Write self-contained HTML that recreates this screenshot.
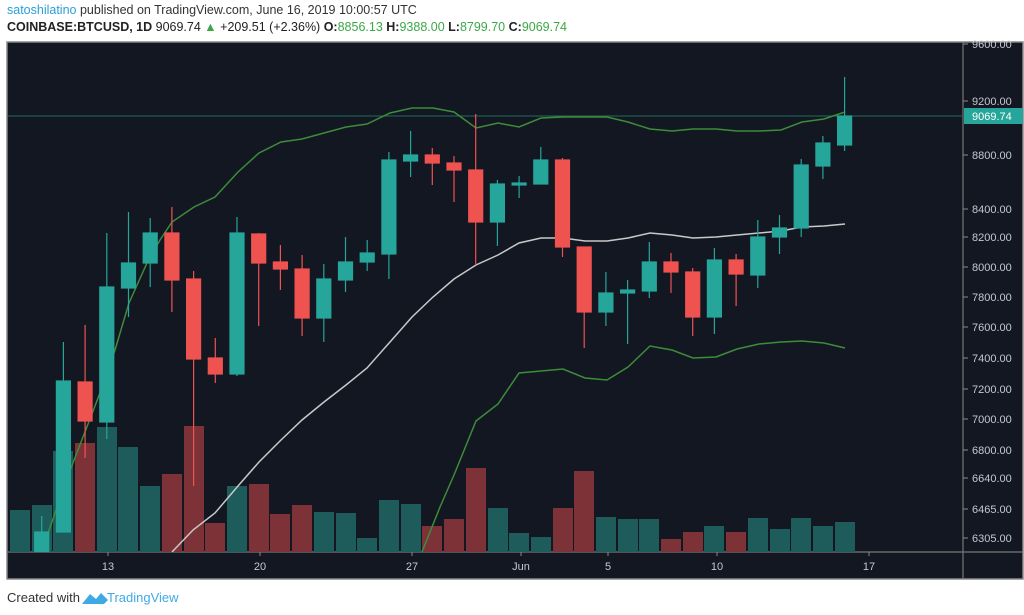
<!DOCTYPE html>
<html><head><meta charset="utf-8"><style>
html,body{margin:0;padding:0;background:#fff;width:1024px;height:615px;overflow:hidden;font-family:"Liberation Sans",sans-serif}
svg{position:absolute;left:0;top:0}
</style></head><body>
<svg width="1024" height="615" viewBox="0 0 1024 615" xmlns="http://www.w3.org/2000/svg" font-family="Liberation Sans, sans-serif">
<text x="7" y="14" font-size="12.5" fill="#333"><tspan fill="#2a9fd6">satoshilatino</tspan> published on TradingView.com, June 16, 2019 10:00:57 UTC</text>
<text x="7" y="31" font-size="12.5" fill="#222"><tspan font-weight="bold">COINBASE:BTCUSD, 1D</tspan> 9069.74 <tspan fill="#3aa846">▲</tspan> +209.51 (+2.36%) <tspan font-weight="bold">O:</tspan><tspan fill="#3aa846">8856.13</tspan> <tspan font-weight="bold">H:</tspan><tspan fill="#3aa846">9388.00</tspan> <tspan font-weight="bold">L:</tspan><tspan fill="#3aa846">8799.70</tspan> <tspan font-weight="bold">C:</tspan><tspan fill="#3aa846">9069.74</tspan></text>
<rect x="7" y="42" width="1016" height="537" fill="#131722" stroke="#888" stroke-width="1.5"/>
<line x1="7" y1="552" x2="1023" y2="552" stroke="#777" stroke-width="1.2"/>
<line x1="963" y1="42" x2="963" y2="579" stroke="#777" stroke-width="1.2"/>
<defs><clipPath id="c"><rect x="8" y="43" width="955" height="509"/></clipPath></defs>
<g clip-path="url(#c)">
<g>
<rect x="10" y="510" width="20" height="42" fill="#1d5c5a"/>
<rect x="32" y="505" width="20" height="47" fill="#1d5c5a"/>
<rect x="53" y="451" width="20" height="101" fill="#1d5c5a"/>
<rect x="75" y="443" width="20" height="109" fill="#7d3238"/>
<rect x="97" y="427" width="20" height="125" fill="#1d5c5a"/>
<rect x="118" y="447" width="20" height="105" fill="#1d5c5a"/>
<rect x="140" y="486" width="20" height="66" fill="#1d5c5a"/>
<rect x="162" y="474" width="20" height="78" fill="#7d3238"/>
<rect x="184" y="426" width="20" height="126" fill="#7d3238"/>
<rect x="205" y="523" width="20" height="29" fill="#7d3238"/>
<rect x="227" y="486" width="20" height="66" fill="#1d5c5a"/>
<rect x="249" y="484" width="20" height="68" fill="#7d3238"/>
<rect x="270" y="514" width="20" height="38" fill="#7d3238"/>
<rect x="292" y="505" width="20" height="47" fill="#7d3238"/>
<rect x="314" y="512" width="20" height="40" fill="#1d5c5a"/>
<rect x="336" y="513" width="20" height="39" fill="#1d5c5a"/>
<rect x="357" y="538" width="20" height="14" fill="#1d5c5a"/>
<rect x="379" y="500" width="20" height="52" fill="#1d5c5a"/>
<rect x="401" y="504" width="20" height="48" fill="#1d5c5a"/>
<rect x="422" y="526" width="20" height="26" fill="#7d3238"/>
<rect x="444" y="519" width="20" height="33" fill="#7d3238"/>
<rect x="466" y="468" width="20" height="84" fill="#7d3238"/>
<rect x="488" y="508" width="20" height="44" fill="#1d5c5a"/>
<rect x="509" y="533" width="20" height="19" fill="#1d5c5a"/>
<rect x="531" y="537" width="20" height="15" fill="#1d5c5a"/>
<rect x="553" y="508" width="20" height="44" fill="#7d3238"/>
<rect x="574" y="471" width="20" height="81" fill="#7d3238"/>
<rect x="596" y="517" width="20" height="35" fill="#1d5c5a"/>
<rect x="618" y="519" width="20" height="33" fill="#1d5c5a"/>
<rect x="639" y="519" width="20" height="33" fill="#1d5c5a"/>
<rect x="661" y="539" width="20" height="13" fill="#7d3238"/>
<rect x="683" y="532" width="20" height="20" fill="#7d3238"/>
<rect x="704" y="526" width="20" height="26" fill="#1d5c5a"/>
<rect x="726" y="532" width="20" height="20" fill="#7d3238"/>
<rect x="748" y="518" width="20" height="34" fill="#1d5c5a"/>
<rect x="770" y="529" width="20" height="23" fill="#1d5c5a"/>
<rect x="791" y="518" width="20" height="34" fill="#1d5c5a"/>
<rect x="813" y="526" width="20" height="26" fill="#1d5c5a"/>
<rect x="835" y="522" width="20" height="30" fill="#1d5c5a"/>
</g>
<line x1="8" y1="116" x2="963" y2="116" stroke="#1f6b63" stroke-width="1"/>
<polyline fill="none" stroke="#3d8c3a" stroke-width="1.5" points="42,552 48,533 71,468 100,393 115,350 129,303 147,263 160,240 172,222 194,207 215,197 238,172 259,153 281,142 302,139 324,133 346,127 367,124 390,113 412,108 433,108 454,112 476,128 498,123 519,127 541,118 563,117 585,117 607,117 628,122 650,129 672,131 693,129 716,129 737,131 759,131 781,130 802,122 824,119 845,112"/>
<polyline fill="none" stroke="#c9c9c9" stroke-width="1.5" points="172,552 193,530 215,513 238,486 259,462 281,440 302,420 324,402 346,385 367,368 390,342 412,317 433,297 454,279 476,265 498,255 519,243 541,238 563,238 585,241 607,241 628,238 650,233 672,235 693,238 716,237 737,235 759,233 781,231 802,227 824,226 845,224"/>
<polyline fill="none" stroke="#3d8c3a" stroke-width="1.5" points="422,552 440,507 454,475 476,421 498,404 519,373 541,371 563,369 585,378 607,380 628,367 650,346 672,350 693,358 716,357 737,349 759,344 781,342 802,341 824,343 845,348"/>
<g stroke-width="1.2">
<g stroke="#26a69a" fill="#26a69a">
<line x1="41.7" y1="516" x2="41.7" y2="552"/><rect x="34.7" y="532" width="14" height="20"/>
<line x1="63.4" y1="342" x2="63.4" y2="532"/><rect x="56.4" y="381" width="14" height="151"/>
<line x1="106.8" y1="233" x2="106.8" y2="439"/><rect x="99.8" y="287" width="14" height="135"/>
<line x1="128.5" y1="212" x2="128.5" y2="317"/><rect x="121.5" y="263" width="14" height="25"/>
<line x1="150.2" y1="218" x2="150.2" y2="287"/><rect x="143.2" y="233" width="14" height="30"/>
<line x1="237" y1="217" x2="237" y2="376"/><rect x="230" y="233" width="14" height="141"/>
<line x1="323.8" y1="264" x2="323.8" y2="342"/><rect x="316.8" y="279" width="14" height="39"/>
<line x1="345.5" y1="237" x2="345.5" y2="292"/><rect x="338.5" y="262" width="14" height="18"/>
<line x1="367.2" y1="240" x2="367.2" y2="271"/><rect x="360.2" y="253" width="14" height="9"/>
<line x1="388.9" y1="152" x2="388.9" y2="279"/><rect x="381.9" y="160" width="14" height="94"/>
<line x1="410.6" y1="131" x2="410.6" y2="177"/><rect x="403.6" y="155" width="14" height="6"/>
<line x1="497.4" y1="180" x2="497.4" y2="246"/><rect x="490.4" y="184" width="14" height="38"/>
<line x1="519.1" y1="176" x2="519.1" y2="198"/><rect x="512.1" y="183" width="14" height="2"/>
<line x1="540.8" y1="147" x2="540.8" y2="184"/><rect x="533.8" y="160" width="14" height="24"/>
<line x1="605.9" y1="272" x2="605.9" y2="326"/><rect x="598.9" y="293" width="14" height="19"/>
<line x1="627.6" y1="280" x2="627.6" y2="344"/><rect x="620.6" y="290" width="14" height="3"/>
<line x1="649.3" y1="242" x2="649.3" y2="298"/><rect x="642.3" y="262" width="14" height="29"/>
<line x1="714.4" y1="248" x2="714.4" y2="334"/><rect x="707.4" y="260" width="14" height="57"/>
<line x1="757.8" y1="220" x2="757.8" y2="288"/><rect x="750.8" y="237" width="14" height="38"/>
<line x1="779.5" y1="215" x2="779.5" y2="254"/><rect x="772.5" y="228" width="14" height="9"/>
<line x1="801.2" y1="159" x2="801.2" y2="237"/><rect x="794.2" y="165" width="14" height="63"/>
<line x1="822.9" y1="136" x2="822.9" y2="179"/><rect x="815.9" y="143" width="14" height="23"/>
<line x1="844.6" y1="77" x2="844.6" y2="151"/><rect x="837.6" y="116" width="14" height="29"/>
</g>
<g stroke="#ef5350" fill="#ef5350">
<line x1="85.1" y1="325" x2="85.1" y2="458"/><rect x="78.1" y="382" width="14" height="39"/>
<line x1="171.9" y1="207" x2="171.9" y2="312"/><rect x="164.9" y="233" width="14" height="47"/>
<line x1="193.6" y1="271" x2="193.6" y2="486"/><rect x="186.6" y="279" width="14" height="80"/>
<line x1="215.3" y1="338" x2="215.3" y2="383"/><rect x="208.3" y="358" width="14" height="16"/>
<line x1="258.7" y1="233" x2="258.7" y2="326"/><rect x="251.7" y="234" width="14" height="29"/>
<line x1="280.4" y1="245" x2="280.4" y2="290"/><rect x="273.4" y="262" width="14" height="7"/>
<line x1="302.1" y1="255" x2="302.1" y2="336"/><rect x="295.1" y="269" width="14" height="49"/>
<line x1="432.3" y1="148" x2="432.3" y2="185"/><rect x="425.3" y="155" width="14" height="8"/>
<line x1="454" y1="156" x2="454" y2="202"/><rect x="447" y="163" width="14" height="7"/>
<line x1="475.7" y1="114" x2="475.7" y2="265"/><rect x="468.7" y="170" width="14" height="52"/>
<line x1="562.5" y1="158" x2="562.5" y2="257"/><rect x="555.5" y="160" width="14" height="87"/>
<line x1="584.2" y1="247" x2="584.2" y2="348"/><rect x="577.2" y="247" width="14" height="65"/>
<line x1="671" y1="253" x2="671" y2="293"/><rect x="664" y="262" width="14" height="10"/>
<line x1="692.7" y1="268" x2="692.7" y2="336"/><rect x="685.7" y="272" width="14" height="45"/>
<line x1="736.1" y1="254" x2="736.1" y2="306"/><rect x="729.1" y="260" width="14" height="14"/>
</g>
</g>
</g>
<g font-size="11" fill="#c5c8d0">
<g stroke="#888" stroke-width="1">
<line x1="963" y1="44" x2="968" y2="44"/><line x1="963" y1="101" x2="968" y2="101"/><line x1="963" y1="155" x2="968" y2="155"/><line x1="963" y1="209" x2="968" y2="209"/><line x1="963" y1="237" x2="968" y2="237"/><line x1="963" y1="267" x2="968" y2="267"/><line x1="963" y1="297" x2="968" y2="297"/><line x1="963" y1="327" x2="968" y2="327"/><line x1="963" y1="358" x2="968" y2="358"/><line x1="963" y1="389" x2="968" y2="389"/><line x1="963" y1="419" x2="968" y2="419"/><line x1="963" y1="450" x2="968" y2="450"/><line x1="963" y1="478" x2="968" y2="478"/><line x1="963" y1="509" x2="968" y2="509"/><line x1="963" y1="538" x2="968" y2="538"/>
<line x1="108" y1="552" x2="108" y2="556"/><line x1="260" y1="552" x2="260" y2="556"/><line x1="412" y1="552" x2="412" y2="556"/><line x1="521" y1="552" x2="521" y2="556"/><line x1="608" y1="552" x2="608" y2="556"/><line x1="717" y1="552" x2="717" y2="556"/><line x1="869" y1="552" x2="869" y2="556"/>
</g>
<text x="972" y="48">9600.00</text><text x="972" y="105">9200.00</text><text x="972" y="159">8800.00</text><text x="972" y="213">8400.00</text><text x="972" y="241">8200.00</text><text x="972" y="271">8000.00</text><text x="972" y="301">7800.00</text><text x="972" y="331">7600.00</text><text x="972" y="362">7400.00</text><text x="972" y="393">7200.00</text><text x="972" y="423">7000.00</text><text x="972" y="454">6800.00</text><text x="972" y="482">6640.00</text><text x="972" y="513">6465.00</text><text x="972" y="542">6305.00</text>
<rect x="964" y="108" width="59" height="16" fill="#26a69a"/>
<text x="972" y="120" fill="#fff">9069.74</text>
<g text-anchor="middle"><text x="108" y="570">13</text><text x="260" y="570">20</text><text x="412" y="570">27</text><text x="521" y="570">Jun</text><text x="608" y="570">5</text><text x="717" y="570">10</text><text x="869" y="570">17</text></g>
</g>
<text x="7" y="602" font-size="13" fill="#333">Created with</text>
<path d="M82,604 L90,594 L96,599 L101,593 L108,600 L104,604 Z" fill="#3fa9e6"/>
<text x="107" y="602" font-size="13" fill="#3fa9e6">TradingView</text>
</svg>
</body></html>
